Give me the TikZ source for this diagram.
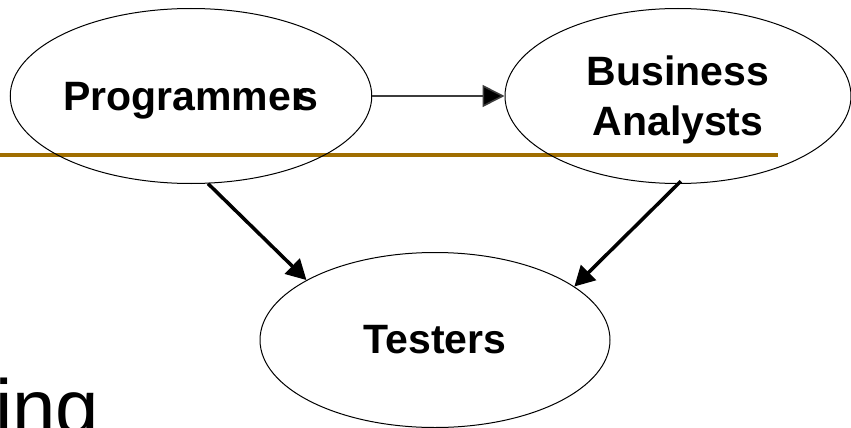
\documentclass[tikz,border=0pt]{standalone}
\usepackage{fontspec}
\setmainfont{Liberation Sans}
\usetikzlibrary{shapes.geometric,arrows.meta}
\definecolor{goldline}{RGB}{160,110,0}
\definecolor{thinline}{RGB}{60,60,60}
\begin{document}
\begin{tikzpicture}[x=1pt,y=-1pt,
  oval/.style={draw=black, line width=1pt, ellipse, inner sep=0pt, align=center,
    font=\fontsize{41}{50}\selectfont\bfseries},
  thinarrow/.style={draw=thinline, line width=1.6pt, -{Triangle[length=22pt,width=22pt,fill=black]}},
  thickarrow/.style={draw=black, line width=3.5pt, -{Triangle[length=20pt,width=21pt]}},
  bigtext/.style={inner sep=0pt, font=\fontsize{78}{86}\selectfont}
]
\useasboundingbox (0,0) rectangle (851,428);
\node[bigtext, anchor=base west] (ing) at (-5,434) {ing};
\coordinate (gl) at (0,155);
\coordinate (gr) at (778,155);
\draw[goldline, line width=4pt] (gl) -- (gr);
\node[oval, minimum width=349pt, minimum height=175pt] (prog) at (191,96)
  {\rule{0pt}{0.93em}Programme\kern0.5pt r\kern-11.5pt s};
\node[oval, minimum width=346pt, minimum height=175pt] (ba) at (678,96)
  {\rule{0pt}{0.93em}Business\\Analysts};
\node[oval, minimum width=350pt, minimum height=175pt] (test) at (435,340)
  {Testers};
\draw[thinarrow] (prog.east) -- (ba.west);
\draw[thickarrow] (prog.-79) -- (test.155.5);
\draw[thickarrow, shorten <=-4pt] (ba.south) -- (test.21.4);
\end{tikzpicture}
\end{document}
